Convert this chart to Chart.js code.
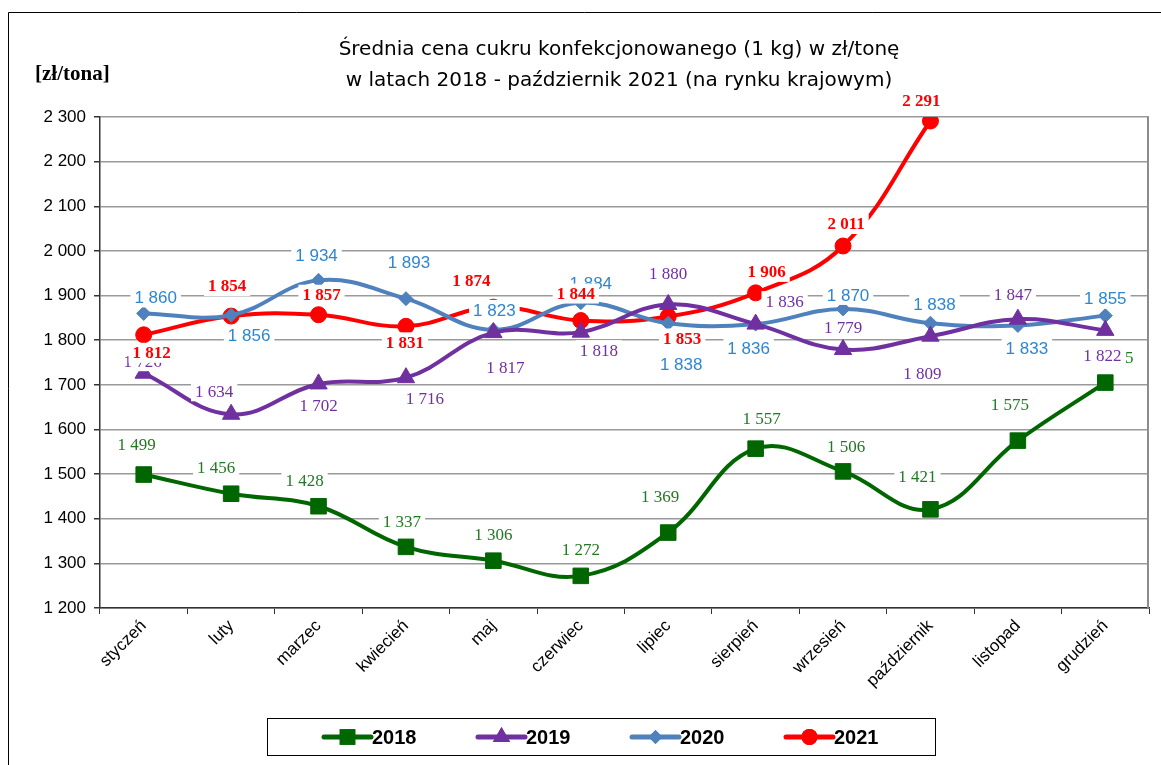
<!DOCTYPE html>
<html>
<head>
<meta charset="utf-8">
<script src="https://cdn.jsdelivr.net/npm/chart.js@4/dist/chart.umd.min.js"></script>
<style>
  html, body { margin:0; padding:0; background:#fff; }
  canvas { display:block; }
</style>
</head>
<body>
<canvas id="chart" width="1161" height="765"></canvas>
<script>
// months on the x axis
const months = ['styczeń','luty','marzec','kwiecień','maj','czerwiec','lipiec','sierpień','wrzesień','październik','listopad','grudzień'];
const years = ['2018','2019','2020','2021'];

// prices in zł/tona
const price2018 = [1499, 1456, 1428, 1337, 1306, 1272, 1369, 1557, 1506, 1421, 1575, 1705];
const price2019 = [1726, 1634, 1702, 1716, 1817, 1818, 1880, 1836, 1779, 1809, 1847, 1822];
const price2020 = [1860, 1856, 1934, 1893, 1823, 1884, 1838, 1836, 1870, 1838, 1833, 1855];
const price2021 = [1812, 1854, 1857, 1831, 1874, 1844, 1853, 1906, 2011, 2291, null, null];

const yTicks = [1200, 1300, 1400, 1500, 1600, 1700, 1800, 1900, 2000, 2100, 2200, 2300];

// styling (kept apart from the data)
const colors = ['#006600', '#7030a0', '#4f81bd', '#ff0000'];
const labelColors = ['#217a21', '#7030a0', '#2e86d1', '#ff0000'];
const labelFonts = ['17px "Liberation Serif"', '17px "Liberation Serif"', '17px "Liberation Sans"', 'bold 17px "Liberation Serif"'];
const markers = ['rect', 'triangle', 'rectRot', 'circle'];
const markerSizes = [11, 10, 7, 8];
// label offsets [dx, dy] from each point, in px
const offs2018 = [[-7,-30],[-15,-26],[-14,-26],[-4,-25],[0,-26],[0,-26],[-8,-36],[6,-30],[3,-25],[-13,-33],[-8,-36],[9,-25]];
const offs2019 = [[-1,-12],[-17,-23],[0,22],[19,21],[12,35],[18,18],[0,-31],[29,-23],[0,-22],[-8,37],[-5,-25],[-3,25]];
const offs2020 = [[12,-16],[18,20],[-2,-25],[3,-36],[1,-20],[10,-19],[13,41],[-7,24],[5,-14],[4,-19],[9,23],[0,-17]];
const offs2021 = [[8,18],[-4,-30],[3,-20],[-1,16],[-22,-27],[-5,-27],[14,22],[11,-21],[3,-22],[-9,-20],null,null];
const labelOffsets = [offs2018, offs2019, offs2020, offs2021];

function fmt(v){ return String(v).replace(/\B(?=(\d{3})+(?!\d))/g, ' '); }

const series = [price2018, price2019, price2020, price2021];
const datasets = series.map((vals, i) => ({
  label: years[i],
  data: vals,
  borderColor: colors[i],
  backgroundColor: colors[i],
  borderWidth: 4,
  tension: 0.4,
  pointStyle: markers[i],
  pointRadius: markerSizes[i],
  pointHoverRadius: markerSizes[i],
  pointBorderWidth: 1,
  spanGaps: false
}));

const decorPlugin = {
  id: 'decor',
  beforeDraw(chart){
    const ctx = chart.ctx;
    ctx.save();
    ctx.fillStyle = '#fff';
    ctx.fillRect(0, 0, chart.width, chart.height);
    ctx.restore();
  },
  afterDatasetsDraw(chart){
    const ctx = chart.ctx;
    ctx.save();
    chart.data.datasets.forEach((ds, di) => {
      const meta = chart.getDatasetMeta(di);
      ctx.font = labelFonts[di];
      ctx.textAlign = 'center';
      ctx.textBaseline = 'middle';
      meta.data.forEach((pt, i) => {
        const v = ds.data[i];
        const o = labelOffsets[di][i];
        if (v == null || !o) return;
        const txt = fmt(v);
        const w = ctx.measureText(txt).width;
        const x = pt.x + o[0], y = pt.y + o[1];
        ctx.fillStyle = '#fff';
        ctx.fillRect(x - w/2 - 4, y - 10, w + 8, 20);
        ctx.fillStyle = labelColors[di];
        ctx.fillText(txt, x, y + 1);
      });
    });
    ctx.restore();
  },
  afterDraw(chart){
    const ctx = chart.ctx;
    const a = chart.chartArea;
    ctx.save();
    // plot area right border
    ctx.strokeStyle = '#8c8c8c';
    ctx.lineWidth = 2;
    ctx.beginPath();
    ctx.moveTo(a.right - 1, a.top);
    ctx.lineTo(a.right - 1, a.bottom);
    ctx.stroke();
    // outer frame
    ctx.strokeStyle = '#000';
    ctx.lineWidth = 1;
    ctx.beginPath();
    ctx.moveTo(8.5, chart.height);
    ctx.lineTo(8.5, 12.5);
    ctx.lineTo(chart.width, 12.5);
    ctx.stroke();
    // title
    ctx.fillStyle = '#000';
    ctx.textAlign = 'center';
    ctx.textBaseline = 'middle';
    ctx.font = '20px "DejaVu Sans"';
    ctx.fillText('Średnia cena cukru konfekcjonowanego (1 kg) w zł/tonę', 619, 50);
    ctx.fillText('w latach 2018 - październik 2021 (na rynku krajowym)', 619, 81);
    // unit
    ctx.textAlign = 'left';
    ctx.font = 'bold 21px "Liberation Serif"';
    ctx.fillText('[zł/tona]', 35, 75);
    // legend
    const lx = 267.5, ly = 718.5, lw = 668, lh = 37;
    ctx.fillStyle = '#fff';
    ctx.fillRect(lx, ly, lw, lh);
    ctx.strokeStyle = '#000';
    ctx.lineWidth = 1;
    ctx.strokeRect(lx, ly, lw, lh);
    const starts = [324, 478, 632, 786];
    const cy = 737;
    chart.data.datasets.forEach((ds, i) => {
      const sx = starts[i];
      ctx.strokeStyle = colors[i];
      ctx.lineWidth = 5;
      ctx.lineCap = 'round';
      ctx.beginPath();
      ctx.moveTo(sx, cy);
      ctx.lineTo(sx + 47, cy);
      ctx.stroke();
      ctx.fillStyle = colors[i];
      Chart.helpers.drawPoint(ctx, { pointStyle: markers[i], radius: markerSizes[i], rotation: 0, borderWidth: 0 }, sx + 23.5, cy);
      ctx.fill();
      ctx.fillStyle = '#000';
      ctx.font = 'bold 20px "Liberation Sans"';
      ctx.textAlign = 'left';
      ctx.fillText(ds.label, sx + 48, cy + 1);
    });
    ctx.restore();
  }
};

new Chart(document.getElementById('chart'), {
  type: 'line',
  data: { labels: months, datasets },
  options: {
    responsive: false,
    animation: false,
    events: [],
    layout: { padding: { top: 117, right: 3, left: 0, bottom: 0 } },
    plugins: { legend: { display: false }, title: { display: false }, tooltip: { enabled: false } },
    scales: {
      x: {
        offset: true,
        grid: { display: true, drawOnChartArea: false, offset: true, tickLength: 6, color: '#333', lineWidth: 1 },
        border: { color: '#333', width: 1.5 },
        ticks: { color: '#000', font: { family: 'Liberation Sans', size: 17 }, maxRotation: 45, minRotation: 45, padding: 2, autoSkip: false },
        afterFit(s){ s.height = 157; }
      },
      y: {
        min: 1200,
        max: 2300,
        afterBuildTicks(s){ s.ticks = yTicks.map(v => ({ value: v })); },
        grid: { color: '#9a9a9a', lineWidth: 1.5, tickLength: 6, tickColor: '#333' },
        border: { color: '#333', width: 1.5 },
        ticks: { color: '#000', font: { family: 'Liberation Sans', size: 17 }, padding: 8, callback: v => fmt(v) },
        afterFit(s){ s.width = 100; }
      }
    }
  },
  plugins: [decorPlugin]
});
</script>
</body>
</html>
